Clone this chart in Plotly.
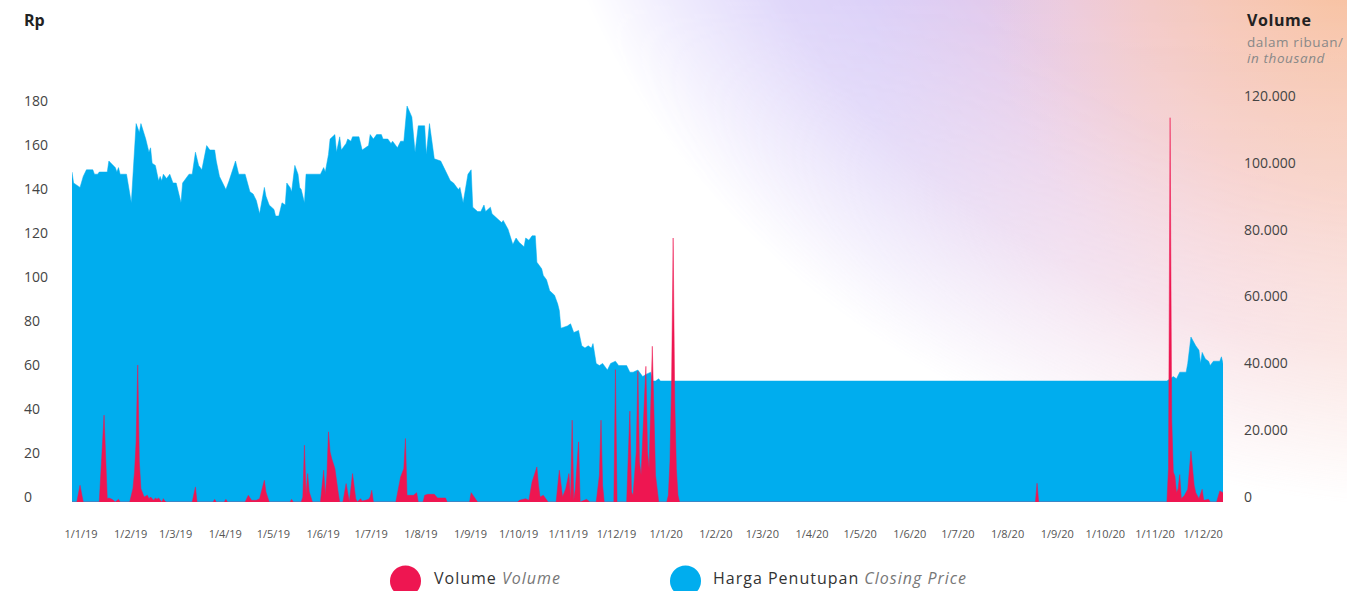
import base64
import plotly.graph_objects as go

# ---------------------------------------------------------------- data
price_dates = [
    "2019-01-01", "2019-01-02", "2019-01-06", "2019-01-08", "2019-01-10", "2019-01-14",
    "2019-01-15", "2019-01-17", "2019-01-18", "2019-01-23", "2019-01-24", "2019-01-27",
    "2019-01-28", "2019-01-29", "2019-01-30", "2019-01-31", "2019-02-04", "2019-02-07",
    "2019-02-10", "2019-02-12", "2019-02-13", "2019-02-16", "2019-02-18", "2019-02-19",
    "2019-02-20", "2019-02-22", "2019-02-24", "2019-02-25", "2019-02-26", "2019-02-27",
    "2019-03-01", "2019-03-03", "2019-03-05", "2019-03-07", "2019-03-10", "2019-03-11",
    "2019-03-15", "2019-03-17", "2019-03-19", "2019-03-21", "2019-03-23", "2019-03-26",
    "2019-03-28", "2019-03-31", "2019-04-01", "2019-04-03", "2019-04-07", "2019-04-09",
    "2019-04-13", "2019-04-15", "2019-04-19", "2019-04-22", "2019-04-24", "2019-04-26",
    "2019-04-28", "2019-05-01", "2019-05-02", "2019-05-04", "2019-05-07", "2019-05-08",
    "2019-05-10", "2019-05-12", "2019-05-14", "2019-05-15", "2019-05-17", "2019-05-18",
    "2019-05-20", "2019-05-22", "2019-05-23", "2019-05-24", "2019-05-26", "2019-05-27",
    "2019-06-05", "2019-06-07", "2019-06-08", "2019-06-10", "2019-06-11", "2019-06-14",
    "2019-06-15", "2019-06-17", "2019-06-18", "2019-06-21", "2019-06-22", "2019-06-24",
    "2019-06-25", "2019-06-29", "2019-07-01", "2019-07-03", "2019-07-05", "2019-07-06",
    "2019-07-08", "2019-07-10", "2019-07-13", "2019-07-14", "2019-07-17", "2019-07-19",
    "2019-07-20", "2019-07-23", "2019-07-25", "2019-07-27", "2019-07-29", "2019-08-01",
    "2019-08-03", "2019-08-05", "2019-08-09", "2019-08-10", "2019-08-12", "2019-08-15",
    "2019-08-19", "2019-08-21", "2019-08-23", "2019-08-25", "2019-08-27", "2019-08-30",
    "2019-08-31", "2019-09-02", "2019-09-05", "2019-09-07", "2019-09-08", "2019-09-11",
    "2019-09-13", "2019-09-15", "2019-09-16", "2019-09-19", "2019-09-20", "2019-09-23",
    "2019-09-26", "2019-09-27", "2019-09-30", "2019-10-03", "2019-10-05", "2019-10-07",
    "2019-10-10", "2019-10-11", "2019-10-13", "2019-10-15", "2019-10-17", "2019-10-18",
    "2019-10-21", "2019-10-22", "2019-10-24", "2019-10-26", "2019-10-29", "2019-10-31",
    "2019-11-01", "2019-11-02", "2019-11-06", "2019-11-08", "2019-11-10", "2019-11-13",
    "2019-11-15", "2019-11-17", "2019-11-19", "2019-11-21", "2019-11-22", "2019-11-24",
    "2019-11-26", "2019-11-28", "2019-12-01", "2019-12-03", "2019-12-06", "2019-12-08",
    "2019-12-11", "2019-12-13", "2019-12-15", "2019-12-17", "2019-12-20", "2019-12-21",
    "2019-12-23", "2019-12-25", "2019-12-28", "2019-12-29", "2019-12-31", "2020-01-02",
    "2020-01-03", "2020-11-14", "2020-11-18", "2020-11-20", "2020-11-22", "2020-11-23",
    "2020-11-26", "2020-11-27", "2020-11-29", "2020-12-02", "2020-12-04", "2020-12-05",
    "2020-12-06", "2020-12-08", "2020-12-10", "2020-12-11", "2020-12-13", "2020-12-17",
    "2020-12-18", "2020-12-19",
]
price_values = [
    150, 145, 143, 148, 151, 151,
    149, 149, 150, 150, 155, 153,
    152, 150, 152, 149, 149, 136,
    172, 168, 172, 165, 159, 161,
    154, 153, 146, 148, 146, 149,
    147, 149, 145, 145, 136, 145,
    149, 149, 159, 153, 151, 162,
    160, 160, 155, 148, 142, 146,
    155, 149, 149, 141, 140, 137,
    131, 143, 139, 135, 133, 130,
    130, 136, 135, 145, 143, 141,
    153, 149, 143, 142, 136, 149,
    149, 152, 150, 158, 165, 167,
    159, 166, 160, 163, 165, 164,
    166, 166, 160, 161, 162, 167,
    165, 167, 167, 165, 165, 163,
    164, 161, 164, 164, 180, 175,
    159, 171, 171, 158, 172, 156,
    155, 152, 149, 146, 145, 142,
    143, 136, 149, 151, 134, 132,
    132, 135, 132, 134, 131, 129,
    127, 128, 124, 117, 120, 118,
    116, 120, 119, 121, 121, 109,
    106, 103, 101, 96, 94, 90,
    87, 79, 80, 81, 77, 78,
    71, 70, 71, 70, 72, 63,
    62, 63, 60, 63, 64, 62,
    62, 62, 59, 59, 60, 59,
    57, 58, 59, 55, 55, 56,
    55, 55, 57, 56, 59, 59,
    59, 63, 75, 71, 69, 63,
    68, 65, 64, 62, 64, 64,
    66, 63,
]

volume_dates = [
    "2019-01-01", "2019-01-04", "2019-01-06", "2019-01-08", "2019-01-18", "2019-01-21",
    "2019-01-23", "2019-01-24", "2019-01-26", "2019-01-28", "2019-01-30", "2019-01-31",
    "2019-02-06", "2019-02-08", "2019-02-09", "2019-02-10", "2019-02-11", "2019-02-12",
    "2019-02-13", "2019-02-15", "2019-02-17", "2019-02-18", "2019-02-19", "2019-02-21",
    "2019-02-22", "2019-02-23", "2019-02-24", "2019-02-26", "2019-02-27", "2019-02-28",
    "2019-03-01", "2019-03-17", "2019-03-19", "2019-03-20", "2019-03-30", "2019-03-31",
    "2019-04-01", "2019-04-06", "2019-04-07", "2019-04-08", "2019-04-19", "2019-04-21",
    "2019-04-23", "2019-04-26", "2019-04-28", "2019-05-01", "2019-05-02", "2019-05-04",
    "2019-05-17", "2019-05-18", "2019-05-19", "2019-05-24", "2019-05-25", "2019-05-26",
    "2019-05-27", "2019-05-28", "2019-05-29", "2019-05-31", "2019-06-05", "2019-06-07",
    "2019-06-08", "2019-06-09", "2019-06-10", "2019-06-11", "2019-06-12", "2019-06-14",
    "2019-06-16", "2019-06-17", "2019-06-19", "2019-06-21", "2019-06-23", "2019-06-25",
    "2019-06-27", "2019-06-28", "2019-06-30", "2019-07-01", "2019-07-03", "2019-07-05",
    "2019-07-06", "2019-07-07", "2019-07-08", "2019-07-22", "2019-07-25", "2019-07-27",
    "2019-07-28", "2019-07-29", "2019-07-31", "2019-08-02", "2019-08-04", "2019-08-05",
    "2019-08-08", "2019-08-09", "2019-08-11", "2019-08-15", "2019-08-17", "2019-08-22",
    "2019-08-23", "2019-09-06", "2019-09-07", "2019-09-10", "2019-09-11", "2019-10-06",
    "2019-10-07", "2019-10-11", "2019-10-13", "2019-10-15", "2019-10-18", "2019-10-19",
    "2019-10-20", "2019-10-22", "2019-10-25", "2019-10-30", "2019-11-01", "2019-11-03",
    "2019-11-05", "2019-11-07", "2019-11-08", "2019-11-09", "2019-11-10", "2019-11-11",
    "2019-11-13", "2019-11-14", "2019-11-18", "2019-11-20", "2019-11-24", "2019-11-26",
    "2019-11-27", "2019-11-28", "2019-11-29", "2019-12-05", "2019-12-06", "2019-12-07",
    "2019-12-13", "2019-12-15", "2019-12-16", "2019-12-17", "2019-12-19", "2019-12-20",
    "2019-12-21", "2019-12-22", "2019-12-23", "2019-12-25", "2019-12-26", "2019-12-27",
    "2019-12-29", "2019-12-31", "2020-01-02", "2020-01-07", "2020-01-08", "2020-01-09",
    "2020-01-10", "2020-01-11", "2020-01-12", "2020-01-13", "2020-01-14", "2020-01-15",
    "2020-08-24", "2020-08-25", "2020-08-26", "2020-11-14", "2020-11-15", "2020-11-16",
    "2020-11-17", "2020-11-18", "2020-11-19", "2020-11-20", "2020-11-21", "2020-11-22",
    "2020-11-23", "2020-11-25", "2020-11-27", "2020-11-29", "2020-12-01", "2020-12-02",
    "2020-12-04", "2020-12-06", "2020-12-07", "2020-12-10", "2020-12-11", "2020-12-15",
    "2020-12-17", "2020-12-19",
]
volume_values = [
    0, 0, 5000, 0, 0, 26000,
    1000, 1200, 800, 0, 800, 0,
    0, 4000, 9000, 18000, 41000, 12000,
    4000, 1500, 2000, 1000, 1500, 500,
    1200, 800, 1200, 0, 1000, 200,
    0, 0, 4500, 0, 0, 800,
    0, 0, 800, 0, 0, 2000,
    500, 500, 1000, 6500, 3000, 0,
    0, 800, 0, 0, 1500, 17000,
    2000, 8500, 3000, 0, 0, 9500,
    2000, 8000, 21000, 15000, 13000, 10000,
    3000, 0, 0, 5500, 0, 8500,
    1000, 0, 1000, 300, 500, 800,
    1500, 3500, 0, 0, 7500, 10000,
    19000, 2000, 2000, 2000, 2800, 0,
    0, 2000, 2300, 2300, 1200, 1200,
    0, 0, 2800, 500, 0, 0,
    500, 1000, 500, 6000, 10500, 5000,
    1500, 2000, 0, 0, 9500, 1500,
    4000, 8500, 500, 24500, 500, 4000,
    18000, 0, 800, 0, 0, 8000,
    24500, 5000, 0, 0, 39600, 0,
    0, 27200, 3000, 2000, 15000, 39100,
    12000, 8000, 20000, 40600, 15000, 10000,
    46600, 8000, 0, 0, 2000, 12000,
    35000, 79000, 30000, 10000, 2000, 0,
    0, 5600, 0, 0, 10000, 115000,
    25000, 9000, 7700, 2800, 4000, 8200,
    1000, 2000, 3800, 15200, 5000, 2800,
    1000, 3800, 500, 800, 0, 0,
    3300, 2800,
]

month_ticks = [
    "2019-01-01", "2019-02-01", "2019-03-01", "2019-04-01", "2019-05-01", "2019-06-01",
    "2019-07-01", "2019-08-01", "2019-09-01", "2019-10-01", "2019-11-01", "2019-12-01",
    "2020-01-01", "2020-02-01", "2020-03-01", "2020-04-01", "2020-05-01", "2020-06-01",
    "2020-07-01", "2020-08-01", "2020-09-01", "2020-10-01", "2020-11-01", "2020-12-01",
]
month_labels = [
    "1/1/19", "1/2/19", "1/3/19", "1/4/19", "1/5/19", "1/6/19",
    "1/7/19", "1/8/19", "1/9/19", "1/10/19", "1/11/19", "1/12/19",
    "1/1/20", "1/2/20", "1/3/20", "1/4/20", "1/5/20", "1/6/20",
    "1/7/20", "1/8/20", "1/9/20", "1/10/20", "1/11/20", "1/12/20",
]
price_ticks = [0, 20, 40, 60, 80, 100, 120, 140, 160, 180]
volume_ticks = [0, 20000, 40000, 60000, 80000, 100000, 120000]
volume_tick_labels = ["0", "20.000", "40.000", "60.000", "80.000", "100.000", "120.000"]

# ---------------------------------------------------------------- style
BLUE = "#00ADEE"
RED = "#EE1651"
FONT = "Open Sans"
W, H = 1347, 591
ML, MR, MT, MB = 72, 124, 60, 89
PW, PH = W - ML - MR, H - MT - MB


def px_x(x):
    return (x - ML) / PW


def px_y(y):
    return (H - MB - y) / PH


# soft colour wash in the upper right corner: hue layers masked by an
# elliptical fade and a top-to-bottom fade so it dissolves into white
bg_svg = f"""<svg xmlns="http://www.w3.org/2000/svg" width="{W}" height="{H}" viewBox="0 0 {W} {H}">
<defs>
<linearGradient id="hue" gradientUnits="userSpaceOnUse" x1="560" y1="0" x2="1347" y2="0">
<stop offset="0" stop-color="rgb(206,198,252)"/>
<stop offset="0.4" stop-color="rgb(212,198,246)"/>
<stop offset="0.65" stop-color="rgb(232,200,228)"/>
<stop offset="0.85" stop-color="rgb(243,200,208)"/>
<stop offset="1" stop-color="rgb(246,204,198)"/>
</linearGradient>
<radialGradient id="peach" gradientUnits="userSpaceOnUse" cx="1347" cy="-20" r="360">
<stop offset="0" stop-color="rgb(248,192,158)" stop-opacity="1"/>
<stop offset="0.55" stop-color="rgb(247,200,178)" stop-opacity="0.5"/>
<stop offset="1" stop-color="rgb(247,205,200)" stop-opacity="0"/>
</radialGradient>
<radialGradient id="fade" cx="0.5" cy="0.5" r="0.5">
<stop offset="0" stop-color="#ffffff" stop-opacity="1"/>
<stop offset="0.6" stop-color="#ffffff" stop-opacity="0.95"/>
<stop offset="0.8" stop-color="#ffffff" stop-opacity="0.7"/>
<stop offset="0.92" stop-color="#ffffff" stop-opacity="0.3"/>
<stop offset="1" stop-color="#ffffff" stop-opacity="0"/>
</radialGradient>
<linearGradient id="vfade" gradientUnits="userSpaceOnUse" x1="0" y1="0" x2="0" y2="{H}">
<stop offset="0" stop-color="#ffffff" stop-opacity="1"/>
<stop offset="0.5" stop-color="#ffffff" stop-opacity="0.72"/>
<stop offset="1" stop-color="#ffffff" stop-opacity="0.5"/>
</linearGradient>
<mask id="wash" maskUnits="userSpaceOnUse" x="0" y="0" width="{W}" height="{H}">
<ellipse cx="1460" cy="-260" rx="930" ry="770" fill="url(#fade)"/>
</mask>
<mask id="wash2" maskUnits="userSpaceOnUse" x="0" y="0" width="{W}" height="{H}">
<rect width="{W}" height="{H}" fill="url(#vfade)"/>
</mask>
</defs>
<rect width="{W}" height="{H}" fill="#ffffff"/>
<g mask="url(#wash2)">
<g mask="url(#wash)">
<rect width="{W}" height="{H}" fill="url(#hue)"/>
<rect width="{W}" height="{H}" fill="url(#peach)"/>
</g>
</g>
</svg>"""
bg_uri = "data:image/svg+xml;base64," + base64.b64encode(bg_svg.encode()).decode()

fig = go.Figure()
fig.add_trace(go.Scatter(
    x=price_dates, y=price_values, mode="lines", fill="tozeroy",
    fillcolor=BLUE, line=dict(color=BLUE, width=0.5), yaxis="y",
    name="Harga Penutupan", showlegend=False,
))
fig.add_trace(go.Scatter(
    x=volume_dates, y=volume_values, mode="lines", fill="tozeroy",
    fillcolor=RED, line=dict(color=RED, width=0.5), yaxis="y2",
    name="Volume", showlegend=False,
))

annotations = []
for v in price_ticks:
    annotations.append(dict(
        x=px_x(22), xref="paper", y=v, yref="y", text=str(v), showarrow=False,
        xanchor="left", yanchor="middle", yshift=6,
        font=dict(family=FONT, size=14, color="#444444"),
    ))
SP = '<span style="letter-spacing:0.6px">{}</span>'
annotations += [
    dict(x=px_x(22), y=px_y(20), xref="paper", yref="paper", text="<b>Rp</b>",
         showarrow=False, xanchor="left", yanchor="middle",
         font=dict(family=FONT, size=16, color="#222222")),
    dict(x=px_x(1245), y=px_y(20), xref="paper", yref="paper",
         text=SP.format("<b>Volume</b>"),
         showarrow=False, xanchor="left", yanchor="middle",
         font=dict(family=FONT, size=16, color="#222222")),
    dict(x=px_x(1245), y=px_y(42), xref="paper", yref="paper",
         text=SP.format("dalam ribuan/"),
         showarrow=False, xanchor="left", yanchor="middle",
         font=dict(family=FONT, size=13.5, color="#888888")),
    dict(x=px_x(1245), y=px_y(58), xref="paper", yref="paper",
         text=SP.format("<i>in thousand</i>"),
         showarrow=False, xanchor="left", yanchor="middle",
         font=dict(family=FONT, size=13.5, color="#888888")),
    dict(x=px_x(432), y=px_y(578), xref="paper", yref="paper",
         text='<span style="letter-spacing:1px">Volume </span>'
              '<span style="letter-spacing:1px;color:#777777"><i>Volume</i></span>',
         showarrow=False, xanchor="left", yanchor="middle",
         font=dict(family=FONT, size=16, color="#333333")),
    dict(x=px_x(711), y=px_y(578), xref="paper", yref="paper",
         text='<span style="letter-spacing:1px">Harga Penutupan </span>'
              '<span style="letter-spacing:1px;color:#777777"><i>Closing Price</i></span>',
         showarrow=False, xanchor="left", yanchor="middle",
         font=dict(family=FONT, size=16, color="#333333")),
]

shapes = []
for cx, col in ((405.5, RED), (685.5, BLUE)):
    shapes.append(dict(
        type="circle", xref="paper", yref="paper", xsizemode="pixel", ysizemode="pixel",
        xanchor=px_x(cx), yanchor=px_y(581), x0=-15.5, x1=15.5, y0=-15.5, y1=15.5,
        fillcolor=col, line=dict(width=0), layer="above",
    ))

fig.update_layout(
    width=W, height=H, autosize=False,
    margin=dict(l=ML, r=MR, t=MT, b=MB, pad=0),
    paper_bgcolor="white", plot_bgcolor="rgba(0,0,0,0)",
    font=dict(family=FONT, color="#444444"),
    showlegend=False,
    xaxis=dict(
        type="date", range=["2019-01-01", "2020-12-19"],
        tickmode="array", tickvals=month_ticks, ticktext=month_labels,
        tickfont=dict(family=FONT, size=11, color="#555555"),
        ticklabelshift=9, ticklabelstandoff=24,
        showgrid=False, zeroline=False, showline=False, ticks="",
    ),
    yaxis=dict(
        range=[0, PH / 2.2], showticklabels=False, showgrid=False,
        zeroline=False, showline=False, ticks="",
    ),
    yaxis2=dict(
        range=[0, PH / 401 * 120000], overlaying="y", side="right",
        tickmode="array", tickvals=volume_ticks, ticktext=volume_tick_labels,
        tickfont=dict(family=FONT, size=14, color="#444444"),
        ticklabelstandoff=20, ticklabelshift=-5,
        showgrid=False, zeroline=False, showline=False, ticks="",
    ),
    annotations=annotations,
    shapes=shapes,
    images=[dict(
        source=bg_uri, xref="paper", yref="paper", x=-ML / PW, y=(H - MB) / PH,
        sizex=W / PW, sizey=H / PH, xanchor="left", yanchor="top",
        sizing="stretch", layer="below",
    )],
)

fig.write_html("out.html")
